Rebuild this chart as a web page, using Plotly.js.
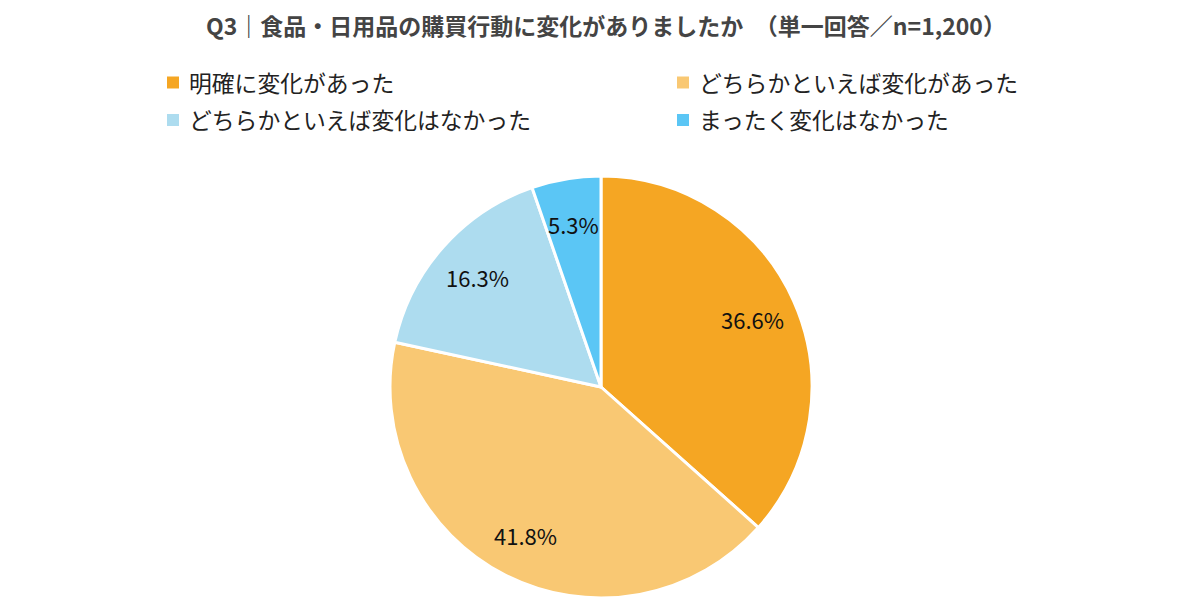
<!DOCTYPE html>
<html>
<head>
<meta charset="utf-8">
<script src="https://cdn.plot.ly/plotly-3.0.1.min.js"></script>
<style>html,body{margin:0;padding:0;background:#fff;}#chart{width:1200px;height:600px;}</style>
</head>
<body>
<div id="chart"></div>
<script>
const categories = ["明確に変化があった", "どちらかといえば変化があった", "どちらかといえば変化はなかった", "まったく変化はなかった"];
const values = [36.6, 41.8, 16.3, 5.3];
const colors = ["#F5A623", "#F9C873", "#ADDCEF", "#5BC6F5"];
const titleText = "Q3｜食品・日用品の購買行動に変化がありましたか　（単一回答／n=1,200）";

const W = 1200, H = 600;
const font = "'Noto Sans CJK JP', 'Noto Sans', sans-serif";

// pie geometry (pixels)
const cx = 601, cy = 387, R = 211;
const labelR = 0.785;

const trace = {
  type: "pie",
  labels: categories,
  values: values,
  sort: false,
  direction: "clockwise",
  rotation: 0,
  marker: {colors: colors, line: {color: "#ffffff", width: 3}},
  textposition: "none",
  hoverinfo: "label+percent",
  showlegend: false,
  domain: {x: [(cx - R) / W, (cx + R) / W], y: [(H - cy - R) / H, (H - cy + R) / H]}
};

// percentage labels placed along each slice's mid-angle
const total = values.reduce((a, b) => a + b, 0);
const annotations = [];
let cum = 0;
values.forEach((v, i) => {
  const mid = (cum + v / 2) / total * 2 * Math.PI;
  cum += v;
  const px = cx + Math.sin(mid) * R * labelR;
  const py = cy - Math.cos(mid) * R * labelR;
  annotations.push({
    xref: "paper", yref: "paper", x: px / W, y: 1 - py / H,
    xanchor: "center", yanchor: "middle", showarrow: false,
    text: v.toFixed(1) + "%",
    font: {family: font, size: 22, color: "#111111"}
  });
});

// legend (2 columns)
const shapes = [];
const legCols = [173, 683], legRows = [82.5, 120], sw = 12;
categories.forEach((c, i) => {
  const col = i % 2, row = Math.floor(i / 2);
  const sx = legCols[col], sy = legRows[row];
  shapes.push({
    type: "rect", xref: "paper", yref: "paper",
    x0: (sx - sw / 2) / W, x1: (sx + sw / 2) / W,
    y0: 1 - (sy + sw / 2) / H, y1: 1 - (sy - sw / 2) / H,
    fillcolor: colors[i], line: {width: 0}
  });
  annotations.push({
    xref: "paper", yref: "paper", x: (sx + 14) / W, y: 1 - sy / H,
    xanchor: "left", yanchor: "middle", showarrow: false,
    text: c,
    font: {family: font, size: 22.8, color: "#222222"}
  });
});

const layout = {
  width: W,
  height: H,
  margin: {l: 0, r: 0, t: 0, b: 0},
  paper_bgcolor: "#ffffff",
  font: {family: font, color: "#222222"},
  title: {
    text: "<b>" + titleText + "</b>",
    x: 606 / W, xanchor: "center",
    y: 1 - 27 / H, yanchor: "middle",
    font: {family: font, size: 23, color: "#444444"}
  },
  showlegend: false,
  shapes: shapes,
  annotations: annotations
};

Plotly.newPlot("chart", [trace], layout, {displayModeBar: false, staticPlot: true});
</script>
</body>
</html>
